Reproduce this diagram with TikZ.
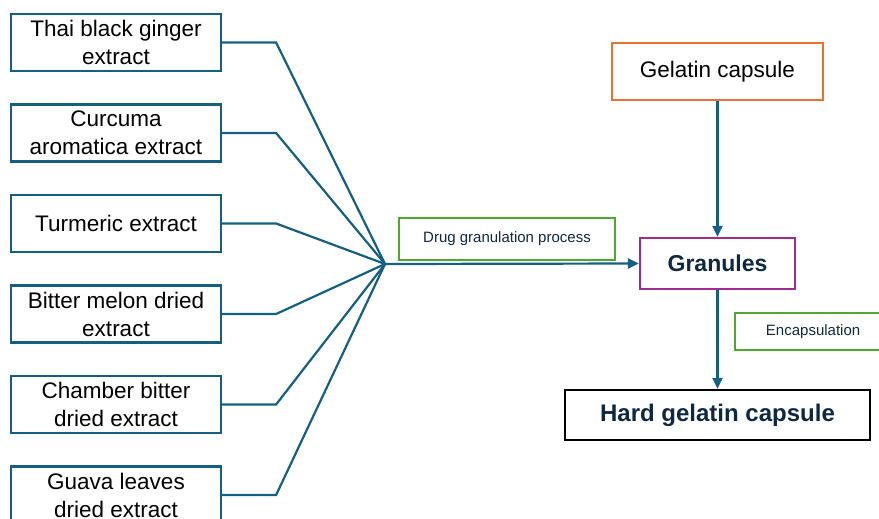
\documentclass[tikz,border=0pt]{standalone}
\usepackage{fontspec}
\setmainfont{Liberation Sans}
\usepackage{xcolor}
\definecolor{lineblue}{RGB}{21,96,130}
\definecolor{boxorange}{RGB}{233,113,50}
\definecolor{boxgreen}{RGB}{78,167,46}
\definecolor{boxpurple}{RGB}{160,43,147}
\definecolor{inknavy}{RGB}{14,40,65}
\usetikzlibrary{arrows.meta,positioning}

\begin{document}
\begin{tikzpicture}[x=1pt,y=-1pt,
  src/.style={rectangle,draw=lineblue,line width=2.2pt,
              minimum width=210pt,minimum height=57pt,inner sep=2pt,
              align=center,font=\fontsize{22.5}{28}\selectfont},
  tag/.style={rectangle,draw=boxgreen,line width=2.2pt,text=inknavy,
              font=\fontsize{15}{18}\selectfont},
  ln/.style={lineblue,line width=2.2pt},
  ar/.style={-{Triangle[length=11pt,width=10pt]},draw=lineblue,
             fill=lineblue,line width=2.2pt},
  node distance=31.3pt,
]
  \useasboundingbox (0,0) rectangle (879,519);
  % extracts
  \node[src](t1) at (116,42.5){Thai black ginger\\extract};
  \node[src,below=of t1](t2){Curcuma\\aromatica extract};
  \node[src,below=of t2](t3){Turmeric extract};
  \node[src,below=of t3](t4){Bitter melon dried\\extract};
  \node[src,below=of t4](t5){Chamber bitter\\dried extract};
  \node[src,below=of t5](t6){Guava leaves\\dried extract};
  \coordinate (hub) at (385,264);
  \foreach \n in {t1,t2,t3,t4,t5,t6}
    \draw[ln,line join=miter](\n.east)--++(54,0)--(hub);
  % right side
  \node[rectangle,draw=boxorange,line width=2.2pt,minimum width=211pt,
        minimum height=57pt,font=\fontsize{22.5}{27}\selectfont]
    (gel) at (717.5,71.5){Gelatin capsule};
  \node[rectangle,draw=boxpurple,line width=2.2pt,minimum width=155pt,
        minimum height=51pt,text=inknavy,
        font=\bfseries\fontsize{23}{28}\selectfont]
    (gran) at (717.5,263.5){Granules};
  \node[rectangle,draw=black,line width=2.2pt,minimum width=305pt,
        minimum height=50pt,text=inknavy,
        font=\bfseries\fontsize{24}{28}\selectfont]
    (hard) at (717.5,415){Hard gelatin capsule};
  \node[tag,minimum width=216pt,minimum height=42pt]
    (dgp) at (507,239){Drug granulation process};
  \node[tag,anchor=west,minimum width=156pt,minimum height=37pt]
    (enc) at (734,331.5){Encapsulation};
  \draw[ar](hub)--(gran.west);
  \draw[ar](gel.south)--(gran.north);
  \draw[ar](gran.south)--(hard.north);
\end{tikzpicture}
\end{document}
